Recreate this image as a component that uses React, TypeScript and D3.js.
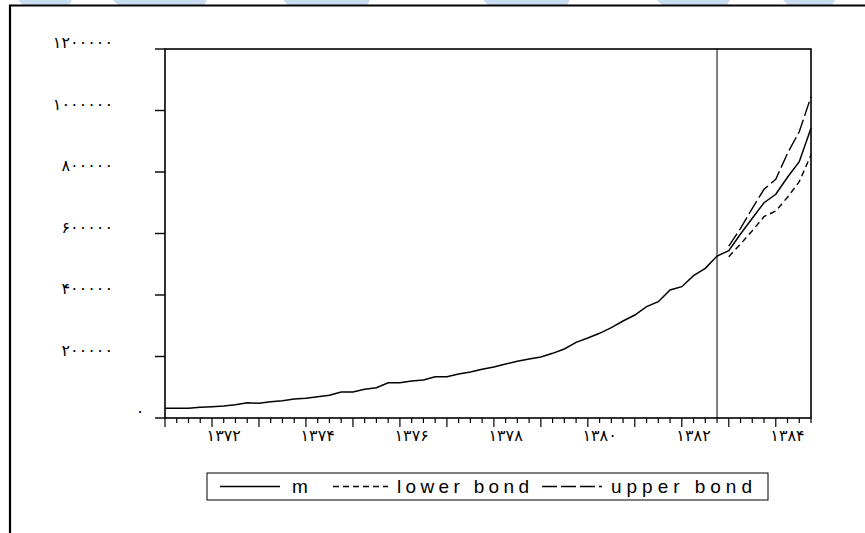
import React from "react";
import * as d3 from "d3";

// quarterly series, 1371Q1 .. 1384Q4
const startYear = 1371;
const mValues = [
  31500, 31500, 31500, 34800, 36700, 39000, 43300, 49800,
  47700, 53000, 56300, 61800, 64000, 69300, 73800, 84600,
  84600, 93300, 98600, 114800, 114800, 120300, 123600, 134300,
  134300, 143100, 149600, 158400, 165900, 175600, 184400, 191900,
  198400, 210300, 224400, 246100, 260200, 275400, 293700, 315400,
  335000, 362000, 378300, 416300, 427000, 462800, 486800, 526800,
  544100, 598400, 649400, 700200, 727500, 782800, 833500, 942100,
];
// forecast bands start at 1383Q1
const forecastStart = 48;
const lowerBond = [524700, 565900, 609200, 654800, 673200, 717700, 768600, 855300];
const upperBond = [559300, 616800, 681900, 743700, 776200, 860800, 931000, 1044900];
// last observed quarter (1382Q4)
const splitIndex = 47;

const yTicks = [0, 200000, 400000, 600000, 800000, 1000000, 1200000];
const yTickLabels = ["۰", "۲۰۰۰۰۰", "۴۰۰۰۰۰", "۶۰۰۰۰۰", "۸۰۰۰۰۰", "۱۰۰۰۰۰۰", "۱۲۰۰۰۰۰"];
const xLabelYears = [1372, 1374, 1376, 1378, 1380, 1382, 1384];
const xTickLabels = ["۱۳۷۲", "۱۳۷۴", "۱۳۷۶", "۱۳۷۸", "۱۳۸۰", "۱۳۸۲", "۱۳۸۴"];
const legendLabels = ["m", "lower bond", "upper bond"];

// light blue banner pieces cut off at the top of the picture
const bannerPieces = [
  [18, 72], [113, 207], [283, 370], [483, 570], [657, 730], [783, 835],
];

const W = 865;
const H = 533;
const plot = { left: 165, right: 811, top: 49, bottom: 418 };
const faFont = "'DejaVu Sans', sans-serif";

export default function App() {
  const n = mValues.length;
  const x = d3.scaleLinear().domain([0, n - 1]).range([plot.left, plot.right]);
  const y = d3.scaleLinear().domain([0, 1200000]).range([plot.bottom, plot.top]);

  const line = d3
    .line<[number, number]>()
    .x((d) => x(d[0]))
    .y((d) => y(d[1]));

  const mPts = mValues.map((v, i) => [i, v] as [number, number]);
  const lowPts = lowerBond.map((v, i) => [forecastStart + i, v] as [number, number]);
  const upPts = upperBond.map((v, i) => [forecastStart + i, v] as [number, number]);

  const quarterIdx = d3.range(0, n);
  const yearIdx = (yr: number) => (yr - startYear) * 4;

  const dashLow = "6,4";
  const dashUp = "15,4";

  // legend layout
  const lg = { x: 207, y: 473, w: 561, h: 27 };
  const lgMid = lg.y + lg.h / 2;
  const entries = [
    { sx: 220, ex: 280, tx: 292, dash: undefined as string | undefined, len: 0 },
    { sx: 333, ex: 388, tx: 397, dash: dashLow, len: 132 },
    { sx: 542, ex: 602, tx: 611, dash: dashUp, len: 141 },
  ];

  return (
    <svg
      width={W}
      height={H}
      style={{ position: "absolute", left: 0, top: 0, background: "#fff" }}
    >
      <rect x={0} y={0} width={W} height={H} fill="#fff" />
      {bannerPieces.map(([a, b], i) => (
        <polygon
          key={i}
          points={`${a},0 ${b},0 ${b - 3},5 ${a + 5},5`}
          fill="#c8dcf2"
        />
      ))}
      {/* outer frame */}
      <line x1={9} x2={W} y1={5.5} y2={5.5} stroke="#000" strokeWidth={2.2} />
      <line x1={10} x2={10} y1={5} y2={H} stroke="#000" strokeWidth={2.2} />

      {/* plot box */}
      <rect
        x={plot.left}
        y={plot.top}
        width={plot.right - plot.left}
        height={plot.bottom - plot.top}
        fill="none"
        stroke="#000"
        strokeWidth={1.6}
      />

      {/* y axis */}
      {yTicks.map((t, i) => (
        <g key={t}>
          <line x1={plot.left - 10} x2={plot.left} y1={y(t)} y2={y(t)} stroke="#000" strokeWidth={1.4} />
          <text
            x={t === 0 ? plot.left - 25 : 113}
            y={y(t) - 1}
            textAnchor={t === 0 ? "middle" : "end"}
            fontFamily={faFont}
            fontSize={16}
            fill="#000"
          >
            {yTickLabels[i]}
          </text>
        </g>
      ))}

      {/* x axis ticks */}
      {quarterIdx.map((i) => (
        <line
          key={i}
          x1={x(i)}
          x2={x(i)}
          y1={plot.bottom}
          y2={plot.bottom + (i % 4 === 0 ? 9 : 5)}
          stroke="#000"
          strokeWidth={1.2}
        />
      ))}
      {xLabelYears.map((yr, i) => (
        <text
          key={yr}
          x={x(yearIdx(yr) + 1)}
          y={441}
          textAnchor="middle"
          fontFamily={faFont}
          fontSize={16}
          fill="#000"
        >
          {xTickLabels[i]}
        </text>
      ))}

      {/* split line */}
      <line x1={x(splitIndex)} x2={x(splitIndex)} y1={plot.top} y2={plot.bottom} stroke="#000" strokeWidth={1} />

      {/* series */}
      <path d={line(mPts) || ""} fill="none" stroke="#000" strokeWidth={1.5} />
      <path d={line(lowPts) || ""} fill="none" stroke="#000" strokeWidth={1.4} strokeDasharray={dashLow} />
      <path d={line(upPts) || ""} fill="none" stroke="#000" strokeWidth={1.4} strokeDasharray={dashUp} />

      {/* legend */}
      <rect x={lg.x} y={lg.y} width={lg.w} height={lg.h} fill="#fff" stroke="#000" strokeWidth={1} />
      {entries.map((e, i) => (
        <g key={i}>
          <line x1={e.sx} x2={e.ex} y1={lgMid} y2={lgMid} stroke="#000" strokeWidth={1.3} strokeDasharray={e.dash} />
          <text
            x={e.tx}
            y={lgMid + 6.5}
            fontFamily="'Liberation Sans', Arial, sans-serif"
            fontSize={19}
            fill="#000"
            textLength={e.len || undefined}
            lengthAdjust="spacing"
          >
            {legendLabels[i]}
          </text>
        </g>
      ))}
    </svg>
  );
}
